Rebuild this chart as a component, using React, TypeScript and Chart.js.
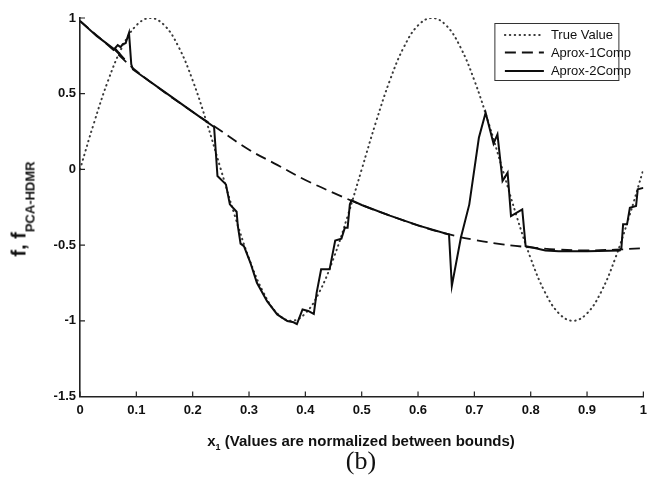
import React, { useEffect, useRef } from "react";
import { Chart, registerables } from "chart.js";

Chart.register(...registerables);

// ---- data ----
const trueValueX = [0, 0.025, 0.05, 0.075, 0.1, 0.125, 0.15, 0.175, 0.2, 0.225, 0.25, 0.275, 0.3, 0.325, 0.35, 0.375, 0.4, 0.425, 0.45, 0.475, 0.5, 0.525, 0.55, 0.575, 0.6, 0.625, 0.65, 0.675, 0.7, 0.725, 0.75, 0.775, 0.8, 0.825, 0.85, 0.875, 0.9, 0.925, 0.95, 0.975, 1];
const trueValueY = [0, 0.309, 0.588, 0.809, 0.951, 1, 0.951, 0.809, 0.588, 0.309, 0, -0.309, -0.588, -0.809, -0.951, -1, -0.951, -0.809, -0.588, -0.309, 0, 0.309, 0.588, 0.809, 0.951, 1, 0.951, 0.809, 0.588, 0.309, 0, -0.309, -0.588, -0.809, -0.951, -1, -0.951, -0.809, -0.588, -0.309, 0];

const aprox1X = [0, 0.05, 0.1, 0.15, 0.2, 0.25, 0.3, 0.35, 0.4, 0.45, 0.5, 0.55, 0.6, 0.65, 0.7, 0.75, 0.8, 0.85, 0.9, 0.95, 1];
const aprox1Y = [0.98, 0.82, 0.65, 0.51, 0.38, 0.255, 0.13, 0.03, -0.07, -0.155, -0.235, -0.305, -0.37, -0.425, -0.465, -0.495, -0.515, -0.53, -0.535, -0.53, -0.52];

const aprox2X = [0, 0.03, 0.062, 0.079, 0.062, 0.067, 0.072, 0.076, 0.081, 0.087, 0.091, 0.094, 0.15, 0.2, 0.238, 0.244, 0.259, 0.266, 0.278, 0.28, 0.285, 0.291, 0.302, 0.314, 0.332, 0.35, 0.368, 0.379, 0.385, 0.395, 0.405, 0.415, 0.42, 0.428, 0.443, 0.453, 0.464, 0.47, 0.475, 0.479, 0.482, 0.5, 0.55, 0.6, 0.655, 0.66, 0.676, 0.691, 0.708, 0.72, 0.734, 0.741, 0.75, 0.759, 0.765, 0.785, 0.791, 0.805, 0.826, 0.85, 0.9, 0.958, 0.961, 0.964, 0.971, 0.976, 0.987, 0.99, 1];
const aprox2Y = [0.98, 0.88, 0.79, 0.727, 0.8, 0.821, 0.808, 0.828, 0.834, 0.902, 0.694, 0.66, 0.512, 0.38, 0.28, -0.044, -0.099, -0.231, -0.28, -0.37, -0.49, -0.507, -0.612, -0.749, -0.87, -0.958, -1.002, -1.01, -1.022, -0.925, -0.935, -0.955, -0.815, -0.66, -0.66, -0.47, -0.458, -0.386, -0.386, -0.231, -0.205, -0.235, -0.305, -0.37, -0.43, -0.77, -0.452, -0.231, 0.209, 0.374, 0.17, 0.231, -0.077, -0.022, -0.308, -0.264, -0.507, -0.518, -0.535, -0.54, -0.54, -0.535, -0.518, -0.363, -0.363, -0.254, -0.242, -0.132, -0.122];

const seriesNames = ["True Value", "Aprox-1Comp", "Aprox-2Comp"];
const xTickValues = [0, 0.1, 0.2, 0.3, 0.4, 0.5, 0.6, 0.7, 0.8, 0.9, 1];
const xTickLabels = ["0", "0.1", "0.2", "0.3", "0.4", "0.5", "0.6", "0.7", "0.8", "0.9", "1"];
const yTickValues = [-1.5, -1, -0.5, 0, 0.5, 1];
const yTickLabels = ["-1.5", "-1", "-0.5", "0", "0.5", "1"];

const zip = (xs: number[], ys: number[]) => xs.map((x, i) => ({ x, y: ys[i] }));

const SANS = "'Liberation Sans', Arial, Helvetica, sans-serif";

const styles = [
  { color: "#3a3a3a", width: 2, dash: [0.5, 4.4], cap: "round" as CanvasLineCap },
  { color: "#111111", width: 1.8, dash: [11, 6], cap: "butt" as CanvasLineCap },
  { color: "#0d0d0d", width: 2, dash: [] as number[], cap: "butt" as CanvasLineCap },
];

const innerTicksPlugin = {
  id: "innerTicks",
  afterDraw(chart: any) {
    const { ctx, chartArea, scales } = chart;
    ctx.save();
    ctx.strokeStyle = "#222";
    ctx.lineWidth = 1.2;
    ctx.beginPath();
    xTickValues.forEach((v) => {
      const px = scales.x.getPixelForValue(v);
      ctx.moveTo(px, chartArea.bottom);
      ctx.lineTo(px, chartArea.bottom - 5);
    });
    yTickValues.forEach((v) => {
      const py = scales.y.getPixelForValue(v);
      ctx.moveTo(chartArea.left, py);
      ctx.lineTo(chartArea.left + 5, py);
    });
    ctx.stroke();
    ctx.restore();
  },
};

const boxLegendPlugin = {
  id: "boxLegend",
  afterDraw(chart: any) {
    const { ctx, chartArea } = chart;
    const bx = chartArea.right - 148.5;
    const by = chartArea.top + 5.5;
    const bw = 124;
    const bh = 57;
    ctx.save();
    ctx.fillStyle = "#ffffff";
    ctx.fillRect(bx, by, bw, bh);
    ctx.strokeStyle = "#333";
    ctx.lineWidth = 1;
    ctx.setLineDash([]);
    ctx.strokeRect(bx, by, bw, bh);
    const rows = [by + 11.5, by + 29, by + 47.5];
    seriesNames.forEach((name, i) => {
      const st = styles[i];
      ctx.beginPath();
      ctx.strokeStyle = st.color;
      ctx.lineWidth = st.width;
      ctx.lineCap = st.cap;
      ctx.setLineDash(st.dash);
      ctx.moveTo(bx + 10, rows[i]);
      ctx.lineTo(bx + 49, rows[i]);
      ctx.stroke();
      ctx.setLineDash([]);
      ctx.fillStyle = "#111";
      ctx.font = `13px ${SANS}`;
      ctx.textBaseline = "middle";
      ctx.textAlign = "left";
      ctx.fillText(name, bx + 56, rows[i] + 0.5);
    });
    ctx.restore();
  },
};

export default function App() {
  const canvasRef = useRef<HTMLCanvasElement | null>(null);

  useEffect(() => {
    document.body.style.margin = "0";
    const canvas = canvasRef.current;
    if (!canvas) return;
    const mk = (i: number, data: any[], tension: number, order: number) => ({
      label: seriesNames[i],
      data,
      borderColor: styles[i].color,
      backgroundColor: styles[i].color,
      borderWidth: styles[i].width,
      borderDash: styles[i].dash,
      borderCapStyle: styles[i].cap,
      pointRadius: 0,
      pointHoverRadius: 0,
      fill: false,
      tension,
      order,
    });
    const chart = new Chart(canvas, {
      type: "line",
      data: {
        datasets: [
          mk(0, zip(trueValueX, trueValueY), 0.4, 3),
          mk(1, zip(aprox1X, aprox1Y), 0.4, 2),
          mk(2, zip(aprox2X, aprox2Y), 0, 1),
        ] as any,
      },
      options: {
        animation: false,
        responsive: false,
        devicePixelRatio: 1,
        events: [],
        layout: { padding: { top: 18, right: 6, left: 0, bottom: 0 } },
        plugins: { legend: { display: false }, tooltip: { enabled: false } },
        scales: {
          x: {
            type: "linear",
            min: 0,
            max: 1,
            afterBuildTicks: (scale: any) => {
              scale.ticks = xTickValues.map((value) => ({ value }));
            },
            afterFit: (scale: any) => {
              scale.height = 86.5;
            },
            ticks: {
              autoSkip: false,
              maxRotation: 0,
              padding: 6,
              color: "#111",
              font: { family: SANS, size: 13, weight: "bold" },
              callback: (v: any) => {
                const i = xTickValues.indexOf(Number(v));
                return i >= 0 ? xTickLabels[i] : "";
              },
            },
            grid: { display: false, drawTicks: false },
            border: { display: true, color: "#222", width: 1.6 },
          },
          y: {
            type: "linear",
            min: -1.5,
            max: 1,
            afterBuildTicks: (scale: any) => {
              scale.ticks = yTickValues.map((value) => ({ value }));
            },
            afterFit: (scale: any) => {
              scale.width = 80;
            },
            ticks: {
              autoSkip: false,
              padding: 4,
              color: "#111",
              font: { family: SANS, size: 13, weight: "bold" },
              callback: (v: any) => {
                const i = yTickValues.indexOf(Number(v));
                return i >= 0 ? yTickLabels[i] : "";
              },
            },
            grid: { display: false, drawTicks: false },
            border: { display: true, color: "#222", width: 1.6 },
          },
        },
      } as any,
      plugins: [innerTicksPlugin, boxLegendPlugin],
    });
    return () => chart.destroy();
  }, []);

  return (
    <div style={{ position: "absolute", left: 0, top: 0, width: 653, height: 483, background: "#fff", overflow: "hidden" }}>
      <canvas ref={canvasRef} width={653} height={483} style={{ position: "absolute", left: 0, top: 0, width: 653, height: 483 }} />
      <div
        style={{
          position: "absolute",
          left: 19.6,
          top: 209,
          transform: "translate(-50%, -50%) rotate(-90deg)",
          whiteSpace: "nowrap",
          fontFamily: SANS,
          fontWeight: "bold",
          fontSize: 20,
          lineHeight: "20px",
          color: "#111",
        }}
      >
        f, f<span style={{ fontSize: 13, position: "relative", top: 9 }}>PCA-HDMR</span>
      </div>
      <div
        style={{
          position: "absolute",
          left: 361,
          top: 441.5,
          transform: "translate(-50%, -50%)",
          whiteSpace: "nowrap",
          fontFamily: SANS,
          fontWeight: "bold",
          fontSize: 15,
          lineHeight: "15px",
          color: "#111",
        }}
      >
        x<span style={{ fontSize: 9, position: "relative", top: 4 }}>1</span> (Values are normalized between bounds)
      </div>
      <div
        style={{
          position: "absolute",
          left: 361,
          top: 461.4,
          transform: "translate(-50%, -50%)",
          whiteSpace: "nowrap",
          fontFamily: "'Liberation Serif', 'Times New Roman', serif",
          fontSize: 26,
          lineHeight: "26px",
          color: "#111",
        }}
      >
        (b)
      </div>
    </div>
  );
}
